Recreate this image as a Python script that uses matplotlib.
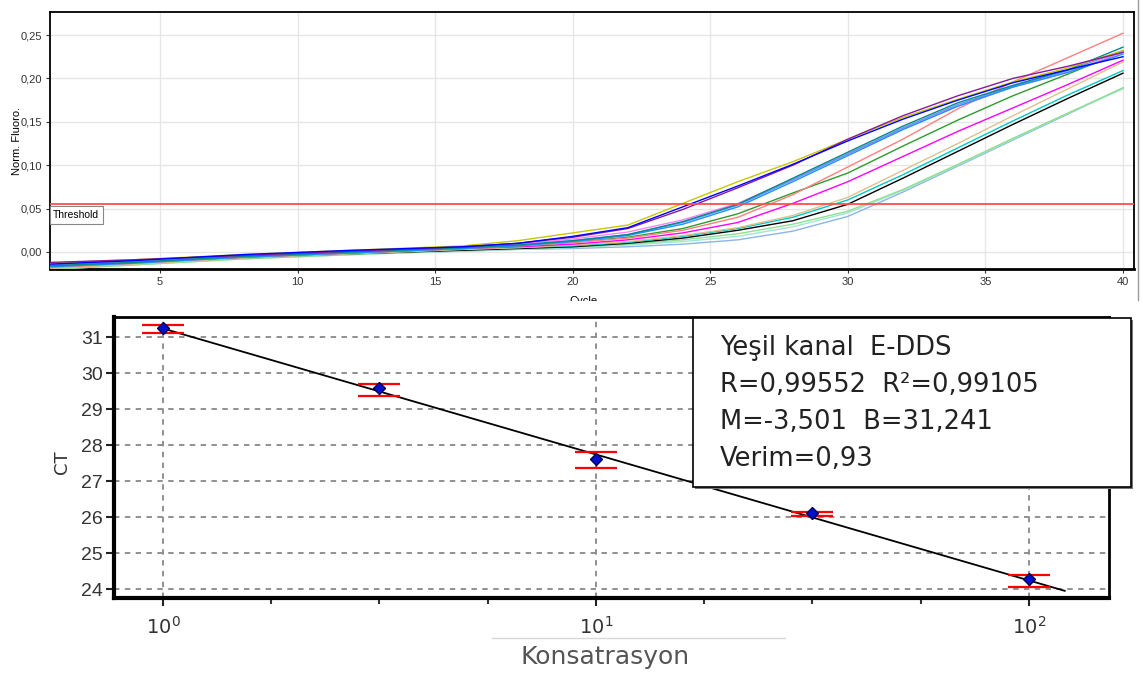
import numpy as np
import matplotlib
matplotlib.use("Agg")
import matplotlib.pyplot as plt
from matplotlib.patches import Rectangle
from matplotlib.lines import Line2D
from matplotlib.ticker import FixedLocator, NullFormatter

# ---------------- data: amplification curves (top panel) ----------------
cycle_knots = [1, 4, 8, 12, 16, 18, 20, 22, 24, 26, 28, 30, 32, 34, 36, 38, 40]

curve_yellow = [-0.013, -0.009, -0.003, 0.002, 0.007, 0.013, 0.022, 0.031, 0.056, 0.081, 0.104, 0.130, 0.155, 0.176, 0.196, 0.212, 0.232]
curve_blue = [-0.014, -0.010, -0.003, 0.002, 0.006, 0.010, 0.018, 0.028, 0.052, 0.076, 0.101, 0.128, 0.153, 0.175, 0.195, 0.210, 0.225]
curve_purple = [-0.012, -0.009, -0.004, 0.001, 0.006, 0.010, 0.017, 0.027, 0.049, 0.074, 0.100, 0.130, 0.157, 0.180, 0.200, 0.214, 0.230]
curve_teal = [-0.016, -0.012, -0.005, 0.000, 0.005, 0.008, 0.013, 0.020, 0.035, 0.055, 0.085, 0.115, 0.145, 0.172, 0.192, 0.210, 0.236]
curve_dodger = [-0.017, -0.013, -0.006, -0.001, 0.004, 0.007, 0.012, 0.019, 0.032, 0.052, 0.081, 0.111, 0.141, 0.168, 0.190, 0.207, 0.228]
curve_cornflower = [-0.015, -0.011, -0.005, 0.000, 0.005, 0.008, 0.013, 0.020, 0.034, 0.054, 0.083, 0.113, 0.143, 0.170, 0.191, 0.209, 0.232]
curve_pink = [-0.014, -0.010, -0.004, 0.001, 0.006, 0.009, 0.015, 0.023, 0.037, 0.056, 0.084, 0.113, 0.142, 0.168, 0.190, 0.207, 0.230]
curve_salmon = [-0.018, -0.013, -0.006, -0.001, 0.004, 0.007, 0.011, 0.016, 0.025, 0.040, 0.066, 0.098, 0.130, 0.165, 0.196, 0.224, 0.252]
curve_green = [-0.017, -0.012, -0.006, -0.001, 0.004, 0.007, 0.011, 0.017, 0.027, 0.044, 0.068, 0.091, 0.122, 0.152, 0.180, 0.205, 0.231]
curve_magenta = [-0.016, -0.012, -0.006, -0.001, 0.004, 0.006, 0.009, 0.014, 0.022, 0.034, 0.056, 0.081, 0.110, 0.139, 0.166, 0.193, 0.221]
curve_tan = [-0.019, -0.014, -0.007, -0.002, 0.003, 0.005, 0.008, 0.012, 0.019, 0.028, 0.042, 0.063, 0.094, 0.125, 0.157, 0.188, 0.219]
curve_cyan = [-0.018, -0.013, -0.007, -0.002, 0.003, 0.005, 0.007, 0.011, 0.018, 0.027, 0.040, 0.060, 0.089, 0.120, 0.151, 0.181, 0.209]
curve_black = [-0.016, -0.012, -0.006, -0.002, 0.002, 0.004, 0.006, 0.010, 0.016, 0.025, 0.036, 0.055, 0.085, 0.116, 0.147, 0.177, 0.206]
curve_lightgreen = [-0.020, -0.015, -0.008, -0.003, 0.002, 0.004, 0.006, 0.009, 0.014, 0.021, 0.032, 0.047, 0.072, 0.101, 0.131, 0.160, 0.189]
curve_lightblue = [-0.019, -0.014, -0.007, -0.002, 0.001, 0.003, 0.004, 0.006, 0.009, 0.014, 0.024, 0.041, 0.069, 0.099, 0.129, 0.159, 0.189]
curve_aqua = [-0.020, -0.015, -0.008, -0.003, 0.001, 0.003, 0.005, 0.008, 0.012, 0.018, 0.029, 0.045, 0.071, 0.100, 0.130, 0.160, 0.188]

threshold = 0.055
top_xticks = [5, 10, 15, 20, 25, 30, 35, 40]
top_yticks = [0.00, 0.05, 0.10, 0.15, 0.20, 0.25]

# ---------------- data: standard curve (bottom panel) ----------------
concentration = [1.0, 3.16, 10.0, 31.6, 100.0]
ct_mean = [31.25, 29.58, 27.61, 26.11, 24.28]
ct_high = [31.33, 29.69, 27.81, 26.13, 24.39]
ct_low = [31.11, 29.36, 27.36, 26.02, 24.06]
fit_slope = -3.501
fit_intercept = 31.241
fit_range = [1.0, 121.0]
r_value = 0.99552
r2_value = 0.99105
efficiency = 0.93
channel_name = "Yeşil kanal  E-DDS"
ct_ticks = [24, 25, 26, 27, 28, 29, 30, 31]
conc_major = [1, 10, 100]
conc_major_labels = ["$10^{0}$", "$10^{1}$", "$10^{2}$"]
conc_minor = [10 ** 0.25, 10 ** 0.5, 10 ** 0.75, 10 ** 1.25, 10 ** 1.5, 10 ** 1.75]

W, H = 1142, 679
fig = plt.figure(figsize=(W / 100, H / 100), dpi=100)
fig.patch.set_facecolor("white")
narrow = ["Liberation Sans Narrow", "Liberation Sans"]

# ---------------- top panel ----------------
ax1 = fig.add_axes([50 / W, 1 - 269 / H, (1134 - 50) / W, (269 - 12) / H])
ax1.set_zorder(0)
curves = [
    (curve_lightblue, "#8cb4e6"), (curve_aqua, "#a0e6d2"), (curve_lightgreen, "#90e090"),
    (curve_black, "#000000"), (curve_cyan, "#00c8c8"), (curve_tan, "#e0c08c"),
    (curve_magenta, "#ff00ff"), (curve_green, "#2e9b2e"), (curve_salmon, "#ff8080"),
    (curve_pink, "#ff80ff"), (curve_cornflower, "#6495ed"), (curve_dodger, "#1e90ff"),
    (curve_teal, "#008b8b"), (curve_yellow, "#c8c800"), (curve_purple, "#8b1a9b"),
    (curve_blue, "#0000ff"),
]
for vals, col in curves:
    ax1.plot(cycle_knots, vals, color=col, lw=1.0, zorder=3)
ax1.axhline(threshold, color="#ff4d4d", lw=1.3, zorder=4)
ax1.text(1.12, 0.0426, "Threshold", fontsize=7.5, va="center", ha="left", family=narrow,
         bbox=dict(boxstyle="square,pad=0.35", fc="white", ec="#888888", lw=0.8), zorder=5)
ax1.set_xlim(1, 40.4)
ax1.set_ylim(-0.0196, 0.2765)
ax1.set_xticks(top_xticks)
ax1.set_yticks(top_yticks)
ax1.set_yticklabels([f"{v:.2f}".replace(".", ",") for v in top_yticks])
ax1.grid(True, color="#e6e6e6", lw=1)
ax1.set_axisbelow(True)
ax1.tick_params(labelsize=8, length=3, width=0.8, colors="#333333", pad=3)
for lab in ax1.get_xticklabels() + ax1.get_yticklabels():
    lab.set_family(narrow)
for s in ["left", "top", "right"]:
    ax1.spines[s].set_linewidth(1.3)
ax1.spines["bottom"].set_linewidth(2)
fig.text(17 / W, 1 - 141 / H, "Norm. Fluoro.", rotation=90, fontsize=8,
         ha="center", va="center", family=narrow)
fig.text(583 / W, 1 - 296 / H, "Cycle", fontsize=8, ha="center", va="top", zorder=0.5,
         family=narrow)
fig.add_artist(Line2D([1138 / W, 1138 / W], [1, 1 - 300 / H], transform=fig.transFigure,
                      color="#999999", lw=1))

# white cover for lower image part
fig.add_artist(Rectangle((0, 0), 1, 1 - 301 / H, transform=fig.transFigure,
                         fc="white", ec="none", zorder=1))

# ---------------- bottom panel ----------------
ax2 = fig.add_axes([114 / W, 1 - 598 / H, (1109 - 114) / W, (598 - 317) / H])
ax2.set_zorder(2)
ax2.set_xscale("log")
ax2.set_xlim(10 ** -0.113, 10 ** 2.185)
ax2.set_ylim(23.75, 31.56)
fit_x = np.array(fit_range)
fit_log = np.log10(np.linspace(fit_x[0], fit_x[1], 200))
ax2.plot(10 ** fit_log, fit_intercept + fit_slope * fit_log, color="black", lw=1.3, zorder=3)
cm = np.array(ct_mean)
ax2.errorbar(concentration, cm, yerr=[cm - np.array(ct_low), np.array(ct_high) - cm],
             fmt="none", ecolor="red", elinewidth=1, capsize=15, capthick=1.6, zorder=4)
ax2.plot(concentration, cm, "D", ms=6.5, mfc="#0010d0", mec="#000050", mew=1, zorder=5)
ax2.set_yticks(ct_ticks)
ax2.xaxis.set_major_locator(FixedLocator(conc_major))
ax2.set_xticklabels(conc_major_labels)
ax2.xaxis.set_minor_locator(FixedLocator(conc_minor))
ax2.xaxis.set_minor_formatter(NullFormatter())
ax2.grid(True, which="major", ls=(0, (3, 3)), color="#888888", lw=1.3)
ax2.set_axisbelow(True)
ax2.tick_params(axis="y", which="major", labelsize=14, length=6, width=1.5,
                colors="#222222", labelcolor="#333333", pad=2)
ax2.tick_params(axis="x", which="major", labelsize=14, length=6, width=1.5,
                colors="#222222", labelcolor="#333333", pad=7)
ax2.tick_params(axis="x", which="minor", length=4, width=1.5, colors="#333333")
for lab in ax2.get_xticklabels() + ax2.get_yticklabels():
    lab.set_family(["Liberation Sans", "DejaVu Sans"])
ax2.spines["left"].set_linewidth(3)
ax2.spines["bottom"].set_linewidth(3)
ax2.spines["top"].set_linewidth(2)
ax2.spines["right"].set_linewidth(2)

fig.text(62 / W, 1 - 462 / H, "CT", rotation=90, fontsize=13, ha="center", va="center",
         color="#333333", zorder=3)
fig.text(605 / W, 1 - 657 / H, "Konsatrasyon", fontsize=18, ha="center", va="center",
         color="#555555", zorder=3)
fig.add_artist(Line2D([492 / W, 785 / W], [1 - 638 / H, 1 - 638 / H], transform=fig.transFigure,
                      color="#d8d8d8", lw=1, zorder=3))

# info box
fig.add_artist(Rectangle((695 / W, 1 - 489 / H), (1131 - 693) / W, (487 - 318) / H,
                         transform=fig.transFigure, fc="#777777", ec="none", zorder=5))
fig.add_artist(Rectangle((693 / W, 1 - 487 / H), (1131 - 693) / W, (487 - 318) / H,
                         transform=fig.transFigure, fc="white", ec="black", lw=1.2, zorder=6))
fmt = lambda v, d: f"{v:.{d}f}".replace(".", ",")
info_lines = [
    channel_name,
    f"R={fmt(r_value, 5)}  R²={fmt(r2_value, 5)}",
    f"M={fmt(fit_slope, 3)}  B={fmt(fit_intercept, 3)}",
    f"Verim={fmt(efficiency, 2)}",
]
for i, t in enumerate(info_lines):
    fig.text(720 / W, 1 - (348 + 37 * i) / H, t, fontsize=18.5, ha="left", va="center",
             color="#222222", zorder=7)

fig.savefig("out.png", dpi=100, facecolor="white")
